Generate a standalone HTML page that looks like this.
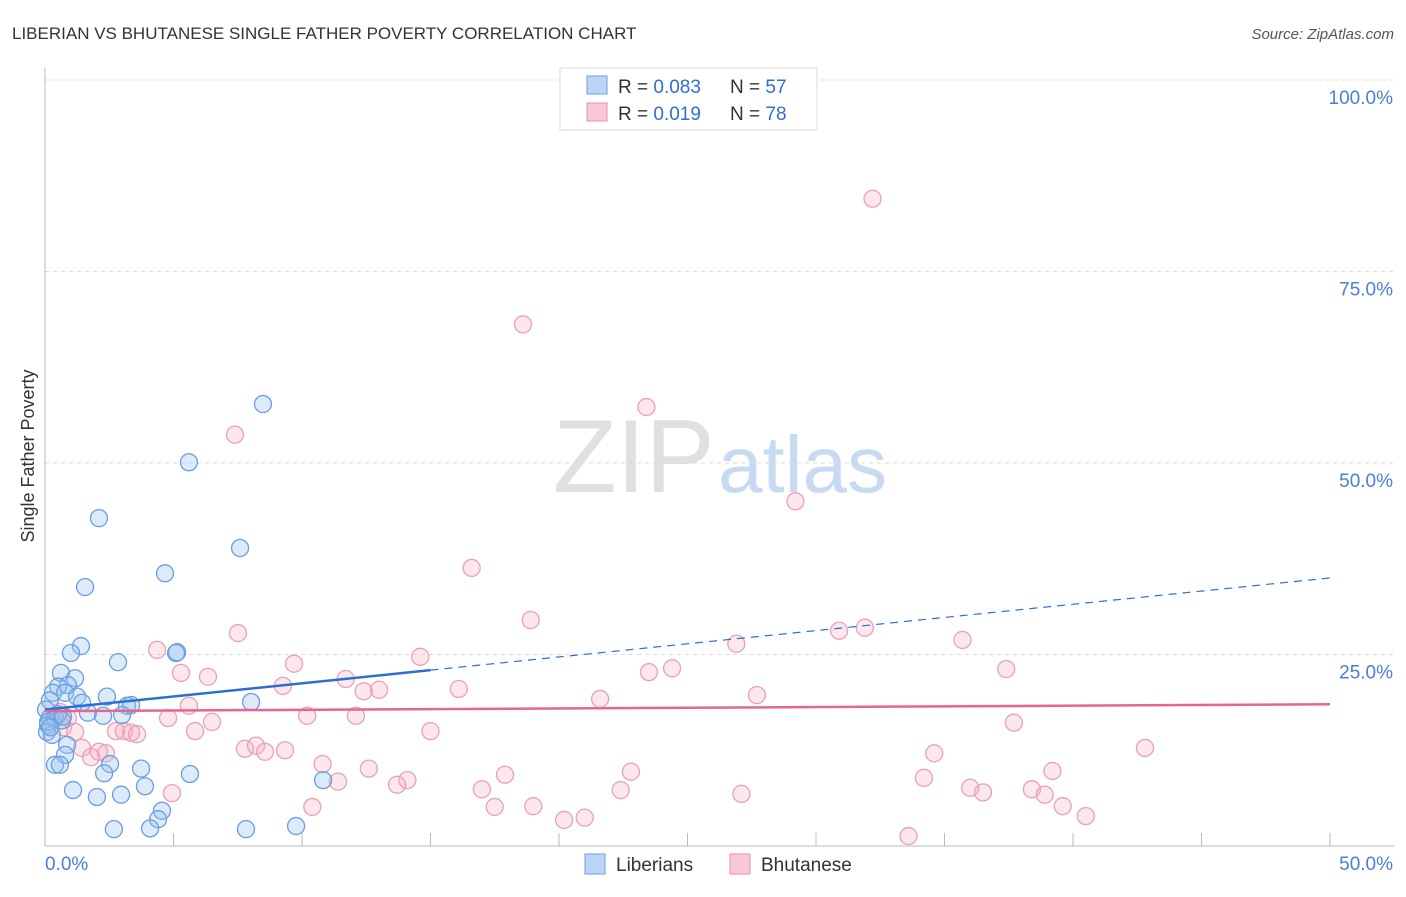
<!DOCTYPE html>
<html><head><meta charset="utf-8"><style>
body{margin:0;background:#fff;font-family:"Liberation Sans",sans-serif}
svg text{font-family:"Liberation Sans",sans-serif}
</style></head><body>
<svg id="chart" width="1406" height="892" xmlns="http://www.w3.org/2000/svg">
<text x="12" y="39" font-size="17" fill="#333">LIBERIAN VS BHUTANESE SINGLE FATHER POVERTY CORRELATION CHART</text>
<text x="1394" y="39" font-size="15" fill="#555" text-anchor="end" font-style="italic">Source: ZipAtlas.com</text>
<text x="553" y="492" font-size="104" fill="#e0e0e0" font-family="Liberation Serif">ZIP</text>
<text x="718" y="492" font-size="80" fill="#c8daf2">atlas</text>
<g id="grid"></g>
<g id="axes"></g>
<g id="pts"></g>
<g id="lines"></g>
<text x="34" y="456" font-size="18" fill="#333" text-anchor="middle" transform="rotate(-90 34 456)">Single Father Poverty</text>
<g>
<rect x="560" y="68" width="257" height="62" fill="#fff" stroke="#ddd"/>
<rect x="587" y="76" width="20" height="18" fill="#bcd5f5" stroke="#6a9ee0"/>
<rect x="587" y="103" width="20" height="18" fill="#f9c8d6" stroke="#e890aa"/>
<text x="618" y="93" font-size="19" fill="#333">R = <tspan fill="#2f6fd0">0.083</tspan><tspan x="730">N = </tspan><tspan fill="#2f6fd0">57</tspan></text>
<text x="618" y="120" font-size="19" fill="#333">R = <tspan fill="#2f6fd0"> 0.019</tspan><tspan x="730">N = </tspan><tspan fill="#2f6fd0">78</tspan></text>
</g>
<g>
<rect x="585" y="854" width="20" height="20" fill="#bcd5f5" stroke="#6a9ee0"/>
<text x="616" y="871" font-size="19" fill="#333">Liberians</text>
<rect x="730" y="854" width="20" height="20" fill="#f9c8d6" stroke="#e890aa"/>
<text x="761" y="871" font-size="19" fill="#333">Bhutanese</text>
</g>
</svg>
<script>
const yTicks=[25,50,75,100];
const yTickLabels=["25.0%","50.0%","75.0%","100.0%"];
const blueX=[8.48,5.60,2.10,7.59,4.67,1.56,1.40,1.01,5.14,2.84,0.62,1.17,0.89,0.51,0.31,0.78,1.25,2.41,1.44,3.19,3.35,8.02,1.67,2.26,3.00,0.19,0.12,0.08,0.86,0.78,0.39,0.58,2.53,3.74,2.30,5.64,1.09,3.89,10.82,2.02,2.96,4.55,4.40,2.68,4.09,7.82,9.77,0.19,0.04,0.39,0.66,0.27,0.12,5.10,0.50,0.70,0.20];
const blueY=[57.7,50.1,42.8,38.9,35.6,33.8,26.1,25.2,25.3,24.0,22.6,21.9,21.0,20.8,20.0,20.0,19.5,19.5,18.7,18.3,18.4,18.8,17.4,17.0,17.1,16.8,15.8,14.9,13.2,11.9,10.6,10.6,10.7,10.1,9.5,9.4,7.3,7.8,8.6,6.4,6.7,4.6,3.5,2.2,2.3,2.2,2.6,19.0,17.8,16.7,16.4,14.5,16.2,25.2,17.2,16.9,15.5];
const pinkX=[32.2,18.6,23.4,7.39,29.2,16.6,18.9,7.51,30.9,31.9,4.36,26.9,35.7,14.6,9.69,24.4,23.5,5.29,6.34,37.4,11.7,9.26,16.1,13.0,12.4,21.6,27.7,5.60,4.79,10.2,12.1,6.50,37.7,0.58,0.89,0.70,1.17,2.76,3.07,3.35,3.58,5.84,15.0,1.44,2.10,2.37,1.79,7.78,8.21,8.56,9.34,34.6,42.8,10.8,12.6,17.9,22.8,39.2,34.2,11.4,14.1,13.7,17.0,22.4,27.1,36.0,36.5,38.4,38.9,4.94,10.4,17.5,19.0,39.6,20.2,21.0,40.5,33.6];
const pinkY=[84.5,68.1,57.3,53.7,45.0,36.3,29.5,27.8,28.1,28.5,25.6,26.4,26.9,24.7,23.8,23.2,22.7,22.6,22.1,23.1,21.8,20.9,20.5,20.4,20.2,19.2,19.7,18.3,16.7,17.0,17.0,16.2,16.1,17.5,16.7,15.5,14.9,15.0,15.0,14.8,14.6,15.0,15.0,12.8,12.3,12.1,11.6,12.7,13.1,12.3,12.5,12.1,12.8,10.7,10.1,9.3,9.7,9.8,8.9,8.4,8.6,8.0,7.4,7.3,6.8,7.6,7.0,7.4,6.7,6.9,5.1,5.1,5.2,5.2,3.4,3.7,3.9,1.3];
const blueTrend=[17.8,35.0];
const pinkTrend=[17.6,18.5];
const NS="http://www.w3.org/2000/svg";
const X=v=>45+v/50*1285, Y=v=>846-v*7.66;
function mk(t,a,p){const e=document.createElementNS(NS,t);for(const k in a)e.setAttribute(k,a[k]);p.appendChild(e);return e;}
const grid=document.getElementById('grid'),axes=document.getElementById('axes'),pts=document.getElementById('pts'),lines=document.getElementById('lines');
yTicks.forEach((t,i)=>{
 const l=mk('line',{x1:45,x2:1394,y1:Y(t),y2:Y(t),stroke:'#ddd','stroke-dasharray':'4,4'},grid);
 
 
 const tx=mk('text',{x:1393,y:Y(t)+24,'font-size':19,fill:'#4a7fd6','text-anchor':'end'},axes);
 tx.textContent=yTickLabels[i];
 
 
});
const ya=mk('line',{x1:45,x2:45,y1:68,y2:846,stroke:'#bbb'},axes);


const xa=mk('line',{x1:45,x2:1394,y1:846,y2:846,stroke:'#bbb'},axes);


for(let v=5;v<=50;v+=5){const t=mk('line',{x1:X(v),x2:X(v),y1:833,y2:846,stroke:'#bbb'},axes);
 
 }
[[0,'0.0%','start',45],[50,'50.0%','end',1393]].forEach(a=>{const t=mk('text',{x:a[3],y:870,'font-size':19,fill:'#4a7fd6','text-anchor':a[2]},axes);t.textContent=a[1];
 
 });
pinkX.forEach((x,i)=>{const c=mk('circle',{cx:X(x),cy:Y(pinkY[i]),r:8.5,fill:'rgba(246,170,192,0.28)',stroke:'#eba0b6','stroke-width':1.3},pts);
 
 });
blueX.forEach((x,i)=>{const c=mk('circle',{cx:X(x),cy:Y(blueY[i]),r:8.5,fill:'rgba(150,190,240,0.33)',stroke:'#6a9ee0','stroke-width':1.3},pts);
 
 });
const by=v=>blueTrend[0]+(blueTrend[1]-blueTrend[0])*v/50;
const b1=mk('line',{x1:X(0),y1:Y(by(0)),x2:X(15),y2:Y(by(15)),stroke:'#2b6fd6','stroke-width':2.5},lines);


const b2=mk('line',{x1:X(15),y1:Y(by(15)),x2:X(50),y2:Y(by(50)),stroke:'#2b6fd6','stroke-width':1.2,'stroke-dasharray':'8,6'},lines);


const p1=mk('line',{x1:X(0),y1:Y(pinkTrend[0]),x2:X(50),y2:Y(pinkTrend[1]),stroke:'#e8658f','stroke-width':2.5},lines);


</script>
</body></html>
